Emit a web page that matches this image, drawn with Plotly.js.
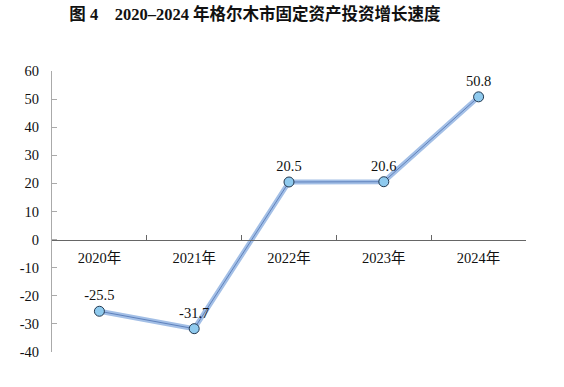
<!DOCTYPE html>
<html><head><meta charset="utf-8">
<script src="https://cdn.plot.ly/plotly-3.0.1.min.js"></script>
<style>html,body{margin:0;padding:0;background:#fff}#chart{width:564px;height:387px}</style>
</head><body><div id="chart"></div>
<script>
const years = ["2020年","2021年","2022年","2023年","2024年"];
const growth = [-25.5, -31.7, 20.5, 20.6, 50.8];
const labels = ["-25.5","-31.7","20.5","20.6","50.8"];
const yTicks = [-40,-30,-20,-10,0,10,20,30,40,50,60];

const serif = "Liberation Serif, Times New Roman, Noto Sans CJK SC, serif";

const traces = [
  {x: years, y: growth, type: "scatter", mode: "lines", hoverinfo: "skip",
   line: {color: "#a3bfe6", width: 5}, showlegend: false},
  {x: years, y: growth, type: "scatter", mode: "lines+markers+text", hoverinfo: "skip",
   line: {color: "#5f82bd", width: 1},
   marker: {size: 10, color: "#8fcaee", line: {color: "#23384f", width: 1}},
   text: labels, textposition: "top center",
   textfont: {family: serif, size: 14.5, color: "#111"}, showlegend: false}
];

const layout = {
  width: 564, height: 387,
  margin: {l: 52, r: 38, t: 71, b: 35},
  paper_bgcolor: "#fff", plot_bgcolor: "#fff",
  font: {family: serif, size: 14.5, color: "#111"},
  title: {text: "<b>图 4　2020–2024 年格尔木市固定资产投资增长速度</b>",
          font: {family: serif, size: 16.5, color: "#111"},
          x: 0.452, xanchor: "center", y: 0.962, yanchor: "middle"},
  xaxis: {type: "category", range: [-0.5, 4.5], anchor: "free", position: 0.4,
          showline: true, linecolor: "#666", linewidth: 1,
          ticks: "inside", tickson: "boundaries", ticklen: 5, tickcolor: "#666",
          showgrid: false, zeroline: false, ticklabelstandoff: 5,
          tickfont: {family: serif, size: 14.5, color: "#111"}, fixedrange: true},
  yaxis: {range: [-40, 60], tickvals: yTicks, ticktext: yTicks.map(String),
          showline: true, linecolor: "#aaa", linewidth: 1,
          ticks: "inside", ticklen: 5, tickcolor: "#aaa",
          showgrid: false, zeroline: false, ticklabelstandoff: 9,
          tickfont: {family: serif, size: 14.5, color: "#111"}, fixedrange: true}
};

Plotly.newPlot("chart", traces, layout, {staticPlot: true});
</script></body></html>
